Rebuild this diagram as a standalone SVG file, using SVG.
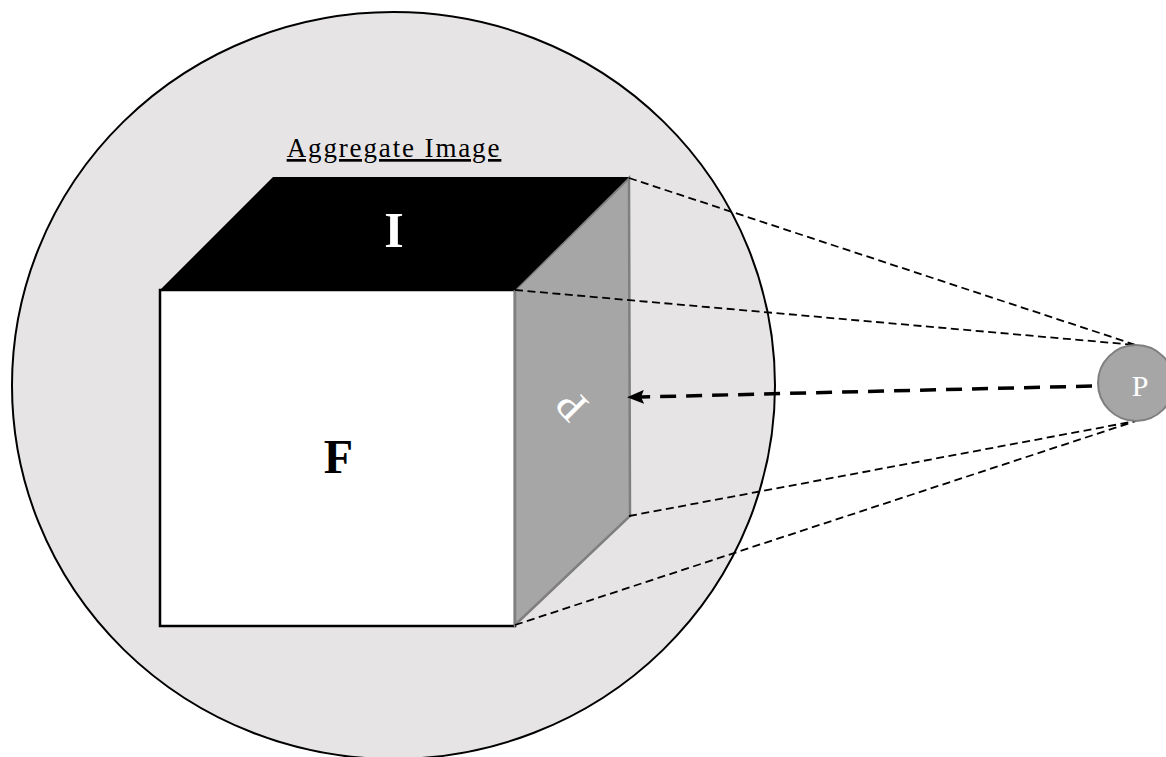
<svg xmlns="http://www.w3.org/2000/svg" width="1166" height="757" viewBox="0 0 1166 757">
<style>
.t{font-family:"Liberation Serif",serif}
.d{fill:none;stroke:#000;stroke-width:1.8;stroke-dasharray:8 4.500}
</style>
<defs><marker id="a" markerWidth="17" markerHeight="14" refX="3" refY="7" orient="auto" markerUnits="userSpaceOnUse" viewBox="0 0 17 14"><path d="M0 0L17 7L0 14L3 7z" fill="#000"/></marker></defs>
<rect width="1166" height="757" fill="#fff"/>
<g id="image"><ellipse cx="393.500" cy="385.500" rx="381.500" ry="373.500" fill="#e6e4e5" stroke="#000" stroke-width="2"/>
<text class="t" x="394" y="157" font-size="27" letter-spacing="1.87" text-anchor="middle" text-decoration="underline">Aggregate Image</text></g>
<g id="front-f"><rect x="160" y="290" width="355" height="336" fill="#fff" stroke="#000" stroke-width="2.5"/>
<text class="t" x="338.500" y="473" font-size="48" font-weight="bold" text-anchor="middle">F</text></g>
<g id="side-p"><polygon points="515,290 629,178 630,516 515,625" fill="#a6a6a6" stroke="#7f7f7f" stroke-width="2.5"/>
<text class="t" transform="translate(572,405) rotate(225)" y="14" font-size="44" fill="#fff" text-anchor="middle">P</text></g>
<g id="top-i"><polygon points="160,290 273,177 629,177 515,290" fill="#000"/>
<text class="t" x="394" y="247" font-size="50" font-weight="bold" fill="#fff" text-anchor="middle">I</text></g>
<g id="connectors">
<path class="d" d="M629 178L1136 345M515 290L1136 345M629 516L1136 421M515 625L1136 421"/>
<path d="M1092 386L641 397" fill="none" stroke="#000" stroke-width="3.5" stroke-dasharray="16 10" marker-end="url(#a)"/>
</g>
<g id="viewer-p"><circle cx="1136" cy="383" r="38" fill="#a6a6a6" stroke="#7f7f7f" stroke-width="2"/>
<text class="t" x="1140" y="396" font-size="30" fill="#fff" text-anchor="middle">P</text></g>
</svg>
